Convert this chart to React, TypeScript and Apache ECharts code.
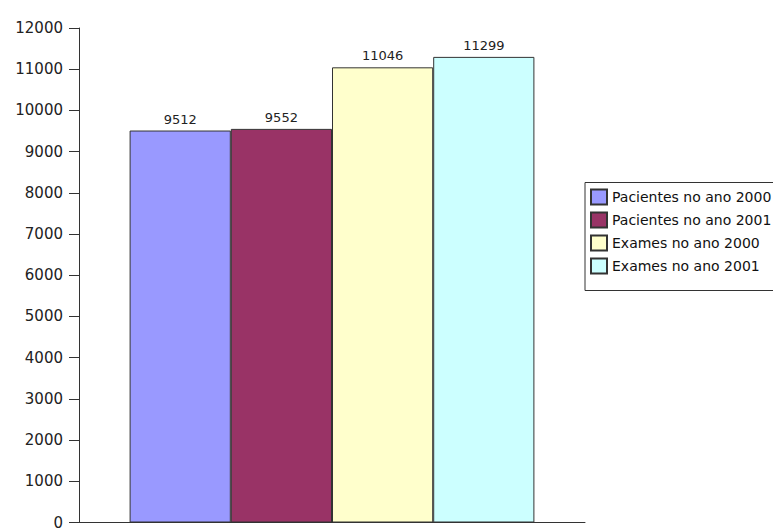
import React, { useEffect, useRef } from "react";
import * as echarts from "echarts";

// Totals of patients and exams per year
const seriesNames = [
  "Pacientes no ano 2000",
  "Pacientes no ano 2001",
  "Exames no ano 2000",
  "Exames no ano 2001",
];
const seriesValues = [9512, 9552, 11046, 11299];
const seriesColors = ["#9999ff", "#993366", "#ffffcc", "#ccffff"];
const categories = [""];

export default function App() {
  const ref = useRef<HTMLDivElement>(null);

  useEffect(() => {
    if (!ref.current) return;
    const chart = echarts.init(ref.current, null, { renderer: "svg" });
    const font = "'DejaVu Sans', Arial, sans-serif";
    chart.setOption({
      animation: false,
      backgroundColor: "#ffffff",
      textStyle: { fontFamily: font },
      grid: { left: 79, right: 188, top: 28, bottom: 6.5 },
      legend: {
        orient: "vertical",
        left: 585,
        top: 182.5,
        itemWidth: 16,
        itemHeight: 15,
        itemGap: 6,
        padding: [6, 40, 16, 5],
        borderColor: "#333333",
        borderWidth: 1,
        icon: "rect",
        textStyle: {
          fontSize: 14,
          lineHeight: 15,
          color: "#111111",
          fontFamily: font,
        },
        data: seriesNames,
      },
      xAxis: {
        type: "category",
        data: categories,
        axisLine: { show: true, lineStyle: { color: "#333333", width: 1 } },
        axisTick: { show: false },
        axisLabel: { show: false },
      },
      yAxis: {
        type: "value",
        min: 0,
        max: 12000,
        interval: 1000,
        axisLine: { show: true, lineStyle: { color: "#333333", width: 1 } },
        axisTick: { show: true, length: 10, lineStyle: { color: "#333333" } },
        axisLabel: {
          fontSize: 15,
          color: "#222222",
          margin: 16,
          fontFamily: font,
          formatter: (v: number) => String(v),
        },
        splitLine: { show: false },
      },
      series: seriesNames.map((name, i) => ({
        name,
        type: "bar",
        data: [seriesValues[i]],
        barGap: "0%",
        barCategoryGap: "20%",
        itemStyle: {
          color: seriesColors[i],
          borderColor: "#333333",
          borderWidth: 1,
        },
        label: {
          show: true,
          position: "top",
          distance: 5,
          fontSize: 13,
          color: "#222222",
          fontFamily: font,
        },
      })),
    });
    return () => chart.dispose();
  }, []);

  return (
    <div
      ref={ref}
      style={{ position: "fixed", left: 0, top: 0, width: 773, height: 530 }}
    />
  );
}
